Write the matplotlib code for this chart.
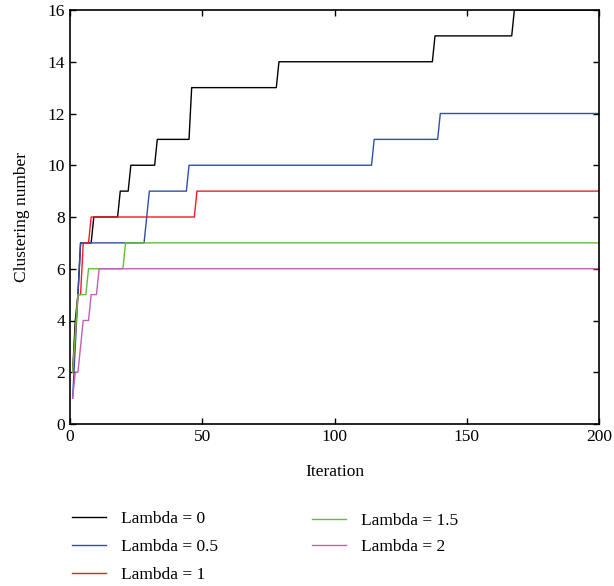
import matplotlib.pyplot as plt

plt.rcParams['font.family'] = ['Liberation Serif', 'DejaVu Serif']

# step vertices (iteration, clustering number)
it_l0 = [1, 2, 3, 4, 8, 9, 18, 19, 22, 23, 32, 33, 34, 35, 45, 46, 78, 79, 137, 138, 167, 168, 200]
cn_l0 = [2, 4, 5, 7, 7, 8, 8, 9, 9, 10, 10, 11, 11, 11, 11, 13, 13, 14, 14, 15, 15, 16, 16]

it_l05 = [1, 2, 3, 4, 28, 30, 44, 45, 114, 115, 139, 140, 200]
cn_l05 = [1, 3, 5, 7, 7, 9, 9, 10, 10, 11, 11, 12, 12]

it_l1 = [1, 3, 4, 5, 7, 8, 47, 48, 200]
cn_l1 = [2, 5, 5, 7, 7, 8, 8, 9, 9]

it_l15 = [1, 3, 6, 7, 20, 21, 200]
cn_l15 = [2, 5, 5, 6, 6, 7, 7]

it_l2 = [1, 2, 3, 5, 7, 8, 10, 11, 200]
cn_l2 = [1, 2, 2, 4, 4, 5, 5, 6, 6]

fig = plt.figure(figsize=(6.14, 5.86), dpi=100)
ax = fig.add_axes([70 / 614, 1 - 424 / 586, 529 / 614, 414 / 586])

lw = 1.0
h0, = ax.plot(it_l0, cn_l0, color='black', lw=lw, label='Lambda = 0')
h1, = ax.plot(it_l05, cn_l05, color='#2f4fa8', lw=lw, label='Lambda = 0.5')
h2, = ax.plot(it_l1, cn_l1, color='#ee1c24', lw=lw, label='Lambda = 1')
h3, = ax.plot(it_l15, cn_l15, color='#62bd3a', lw=lw, label='Lambda = 1.5')
h4, = ax.plot(it_l2, cn_l2, color='#c060b8', lw=lw, label='Lambda = 2')

ax.set_xlim(0, 200)
ax.set_ylim(0, 16)
ax.set_xticks([0, 50, 100, 150, 200])
ax.set_yticks(range(0, 17, 2))
ax.tick_params(direction='in', top=True, right=True, labelsize=12.5, length=4, width=1)
for s in ax.spines.values():
    s.set_linewidth(1.2)
ax.set_xlabel('Iteration', fontsize=12.5, labelpad=14)
ax.set_ylabel('Clustering number', fontsize=12.5, labelpad=13)

leg_kw = dict(frameon=False, fontsize=12.5, handlelength=1.95, handletextpad=0.85, borderaxespad=0)
fig.legend(handles=[h0, h1, h2], loc='upper left', bbox_to_anchor=(65 / 614, 1 - 504 / 586),
           labelspacing=0.69, **leg_kw)
fig.legend(handles=[h3, h4], loc='upper left', bbox_to_anchor=(305 / 614, 1 - 506 / 586),
           labelspacing=0.57, **leg_kw)

fig.savefig('out.png', dpi=100)
